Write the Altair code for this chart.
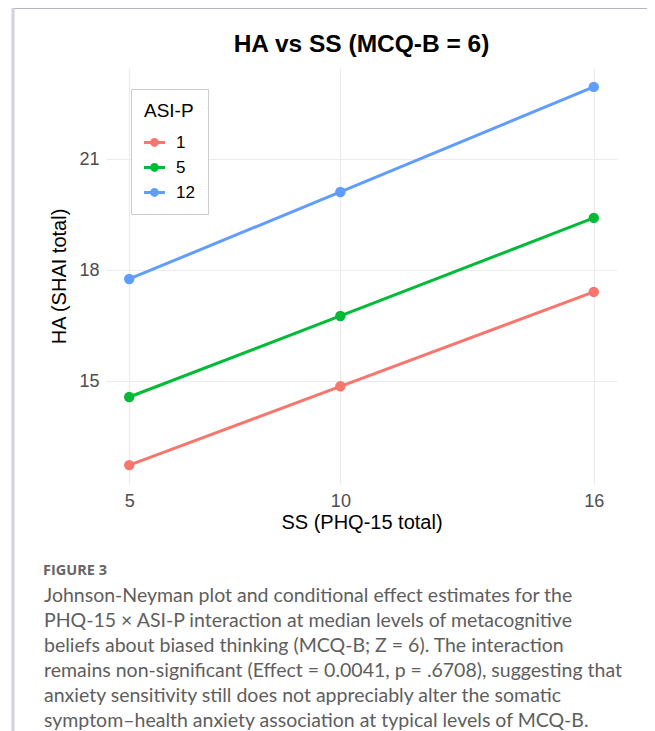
import altair as alt
import pandas as pd

# ---- data ----
ss_values = [5, 10, 16]
asi_levels = ["1", "5", "12"]
ha_asi1 = [12.73, 14.86, 17.41]
ha_asi5 = [14.57, 16.76, 19.41]
ha_asi12 = [17.76, 20.11, 22.95]
x_ticks = [5, 10, 16]
y_ticks = [15, 18, 21]
colors = ["#F8766D", "#00BA38", "#619CFF"]

title_text = "HA vs SS (MCQ-B = 6)"
x_title = "SS (PHQ-15 total)"
y_title = "HA (SHAI total)"
legend_title = "ASI-P"
fig_label = "FIGURE 3"
caption_lines = [
    "Johnson-Neyman plot and conditional effect estimates for the",
    "PHQ-15 \u00d7 ASI-P interaction at median levels of metacognitive",
    "beliefs about biased thinking (MCQ-B; Z = 6). The interaction",
    "remains non-significant (Effect = 0.0041, p = .6708), suggesting that",
    "anxiety sensitivity still does not appreciably alter the somatic",
    "symptom\u2013health anxiety association at typical levels of MCQ-B.",
]

rows = []
for lvl, vals in zip(asi_levels, [ha_asi1, ha_asi5, ha_asi12]):
    for s, v in zip(ss_values, vals):
        rows.append({"SS": s, "HA": v, "ASI": lvl})
df = pd.DataFrame(rows)

W, H = 511, 416
PAD_L, PAD_T = 98, 60
TOTAL_W, TOTAL_H = 639, 723

font = "Liberation Sans"

xscale = alt.Scale(domain=[4.45, 16.55], nice=False, zero=False)
yscale = alt.Scale(domain=[12.22, 23.46], nice=False, zero=False)

legend_symbol = ("M-1,-0.14H1V0.14H-1Z "
                 "M-0.42,0A0.42,0.42 0 1,1 0.42,0A0.42,0.42 0 1,1 -0.42,0Z")

color = alt.Color(
    "ASI:N",
    scale=alt.Scale(domain=asi_levels, range=colors),
    sort=asi_levels,
    legend=alt.Legend(
        title=legend_title,
        orient="none",
        legendX=25,
        legendY=21,
        padding=13,
        strokeColor="#cccccc",
        fillColor="white",
        titleFont=font,
        titleFontSize=19,
        titleFontWeight="normal",
        titleColor="black",
        titlePadding=11,
        labelFont=font,
        labelFontSize=17,
        labelColor="black",
        symbolType=legend_symbol,
        symbolSize=440,
        symbolStrokeWidth=0,
        rowPadding=6,
        labelOffset=11,
    ),
)

x = alt.X("SS:Q", scale=xscale,
          axis=alt.Axis(values=x_ticks, title=x_title, grid=True, gridColor="#EBEBEB",
                        gridWidth=1.2, domain=False, ticks=False, labelPadding=8,
                        labelFont=font, labelFontSize=18, labelColor="#4D4D4D",
                        titleFont=font, titleFontSize=20, titleFontWeight="normal",
                        titleColor="black", titlePadding=2))
y = alt.Y("HA:Q", scale=yscale,
          axis=alt.Axis(values=y_ticks, title=y_title, grid=True, gridColor="#EBEBEB",
                        gridWidth=1.2, domain=False, ticks=False, labelPadding=7,
                        labelFont=font, labelFontSize=18, labelColor="#4D4D4D",
                        titleFont=font, titleFontSize=20, titleFontWeight="normal",
                        titleColor="black", titlePadding=9))

base = alt.Chart(df)
lines = base.mark_line(strokeWidth=3).encode(x=x, y=y, color=color, detail="ASI:N")
points = base.mark_point(filled=True, size=110, opacity=1).encode(x=x, y=y, color=color)

frame_df = pd.DataFrame({"k": [0]})
top_border = alt.Chart(frame_df).mark_rule(color="#b4b4c4", strokeWidth=2).encode(
    x=alt.value(-94), x2=alt.value(TOTAL_W - PAD_L), y=alt.value(-PAD_T), y2=alt.value(-PAD_T))
left_border = alt.Chart(frame_df).mark_rule(color="#d2d2da", strokeWidth=3).encode(
    x=alt.value(-93), x2=alt.value(-93), y=alt.value(-PAD_T), y2=alt.value(TOTAL_H - PAD_T))

title_mark = alt.Chart(frame_df).mark_text(
    align="center", baseline="middle", font=font, fontSize=24.5, fontWeight="bold",
    color="black", text=title_text).encode(
    x=alt.value(W / 2), y=alt.value(45 - 8 - PAD_T))

fig_text = alt.Chart(frame_df).mark_text(
    align="left", baseline="middle", font="Open Sans", fontSize=14.5, fontWeight="bold",
    color="#666666", text=fig_label).encode(
    x=alt.value(43 - 8 - PAD_L), y=alt.value(571 - 8 - PAD_T))

cap_text = alt.Chart(frame_df).mark_text(
    align="left", baseline="middle", font="Lato", fontSize=19.5, lineHeight=25.0,
    color="#5e5e5e", text=caption_lines).encode(
    x=alt.value(44 - 8 - PAD_L), y=alt.value(596 - 8 - PAD_T))

chart = alt.layer(lines, points, top_border, left_border, title_mark, fig_text, cap_text).properties(
    width=W, height=H,
    background="white",
    autosize=alt.AutoSizeParams(type="none"),
    padding={"left": PAD_L, "top": PAD_T, "right": TOTAL_W - PAD_L - W,
             "bottom": TOTAL_H - PAD_T - H},
).configure_view(strokeWidth=0, stroke="transparent")

chart.save("out.html", embed_options={"renderer": "svg", "actions": False})
